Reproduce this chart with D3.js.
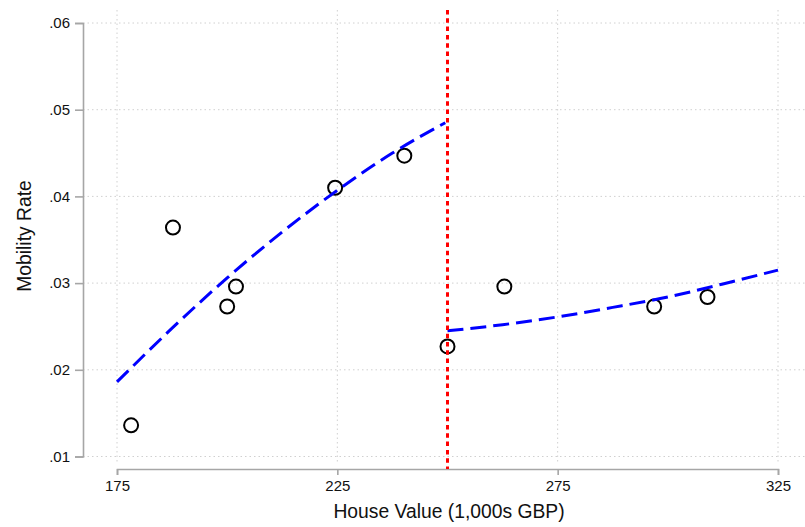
<!DOCTYPE html>
<html>
<head>
<meta charset="utf-8">
<script src="https://cdn.jsdelivr.net/npm/d3@7"></script>
<style>
  body { margin: 0; background: #fff; }
  svg text { font-family: "Liberation Sans", Arial, sans-serif; fill: #111; }
</style>
</head>
<body>
<div id="chart"></div>
<script>
// binned scatter points
const house_vals = [178.2, 187.7, 200.0, 202.0, 224.5, 240.2, 250.0, 262.9, 296.9, 309.0];
const mob_rates = [.0136, .0364, .0273, .0296, .0410, .0447, .0227, .0296, .0273, .0284];

// fitted lines
const left_fit_x = [175, 187.5, 200, 212.5, 225, 237.5, 249.5];
const left_fit_y = [.0186, .0248, .0306, .0359, .0407, .0450, .0485];
const right_fit_x = [250, 262.5, 275, 287.5, 300, 312.5, 325];
const right_fit_y = [.0245, .0252, .0261, .0272, .0284, .0299, .0315];

const cutoff = 250;
const x_ticks = [175, 225, 275, 325];
const y_ticks = [.01, .02, .03, .04, .05, .06];

const width = 805, height = 527;

let svg = d3.select("#chart")
    .append("svg")
    .attr("width", width)
    .attr("height", height);

let x = d3.scaleLinear().domain([175, 325]).range([117, 778]);
let y = d3.scaleLinear().domain([.01, .06]).range([456.5, 23]);

// plot region bounds
const plot_left = 83, plot_right = 805, plot_top = 10, plot_bottom = 463;

// gridlines
let grid = svg.append("g");
grid.selectAll("line.h")
    .data(y_ticks)
    .join("line")
    .attr("x1", plot_left)
    .attr("x2", plot_right)
    .attr("y1", d => y(d))
    .attr("y2", d => y(d))
    .attr("stroke", "#d0d0d0")
    .attr("stroke-width", 1)
    .attr("stroke-dasharray", "1.5,3");
grid.selectAll("line.v")
    .data(x_ticks)
    .join("line")
    .attr("x1", d => x(d))
    .attr("x2", d => x(d))
    .attr("y1", plot_top)
    .attr("y2", plot_bottom)
    .attr("stroke", "#d0d0d0")
    .attr("stroke-width", 1)
    .attr("stroke-dasharray", "1.5,3");

// axes
let x_axis = svg.append("g")
    .attr("transform", "translate(0,469)")
    .call(d3.axisBottom(x).tickValues(x_ticks).tickSizeOuter(0).tickSize(6).tickPadding(5));
let y_axis = svg.append("g")
    .attr("transform", "translate(83,0)")
    .call(d3.axisLeft(y).tickValues(y_ticks).tickSizeOuter(0).tickSize(8).tickPadding(5)
        .tickFormat(d => d3.format(".2f")(d).replace(/^0/, "")));

[x_axis, y_axis].forEach(ax => {
    ax.attr("font-size", null);
    ax.select(".domain").attr("stroke", "#a6a6a6").attr("stroke-width", 1.6);
    ax.selectAll(".tick line").attr("stroke", "#a6a6a6").attr("stroke-width", 1.6);
    ax.selectAll(".tick text").style("font-size", "15px").attr("fill", "#111")
        .style("font-family", "'Liberation Sans', Arial, sans-serif");
});

// axis titles
svg.append("text")
    .attr("x", 449)
    .attr("y", 518)
    .attr("text-anchor", "middle")
    .style("font-size", "19.3px")
    .text("House Value (1,000s GBP)");
svg.append("text")
    .attr("transform", "translate(31,236) rotate(-90)")
    .attr("text-anchor", "middle")
    .style("font-size", "19.3px")
    .text("Mobility Rate");

// scatter points
svg.append("g")
    .selectAll("circle")
    .data(house_vals.map((v, i) => [v, mob_rates[i]]))
    .join("circle")
    .attr("cx", d => x(d[0]))
    .attr("cy", d => y(d[1]))
    .attr("r", 7)
    .attr("fill", "none")
    .attr("stroke", "#000")
    .attr("stroke-width", 2);

// fitted curves
let line = d3.line()
    .x(d => x(d[0]))
    .y(d => y(d[1]))
    .curve(d3.curveMonotoneX);

[[left_fit_x, left_fit_y], [right_fit_x, right_fit_y]].forEach(([xs, ys]) => {
    svg.append("path")
        .datum(xs.map((v, i) => [v, ys[i]]))
        .attr("d", line)
        .attr("fill", "none")
        .attr("stroke", "#0000ff")
        .attr("stroke-width", 3)
        .attr("stroke-dasharray", "16,7");
});

// cutoff
svg.append("line")
    .attr("x1", x(cutoff))
    .attr("x2", x(cutoff))
    .attr("y1", plot_top)
    .attr("y2", 469)
    .attr("stroke", "#ff0000")
    .attr("stroke-width", 3)
    .attr("stroke-dasharray", "4.5,3.8");
</script>
</body>
</html>
